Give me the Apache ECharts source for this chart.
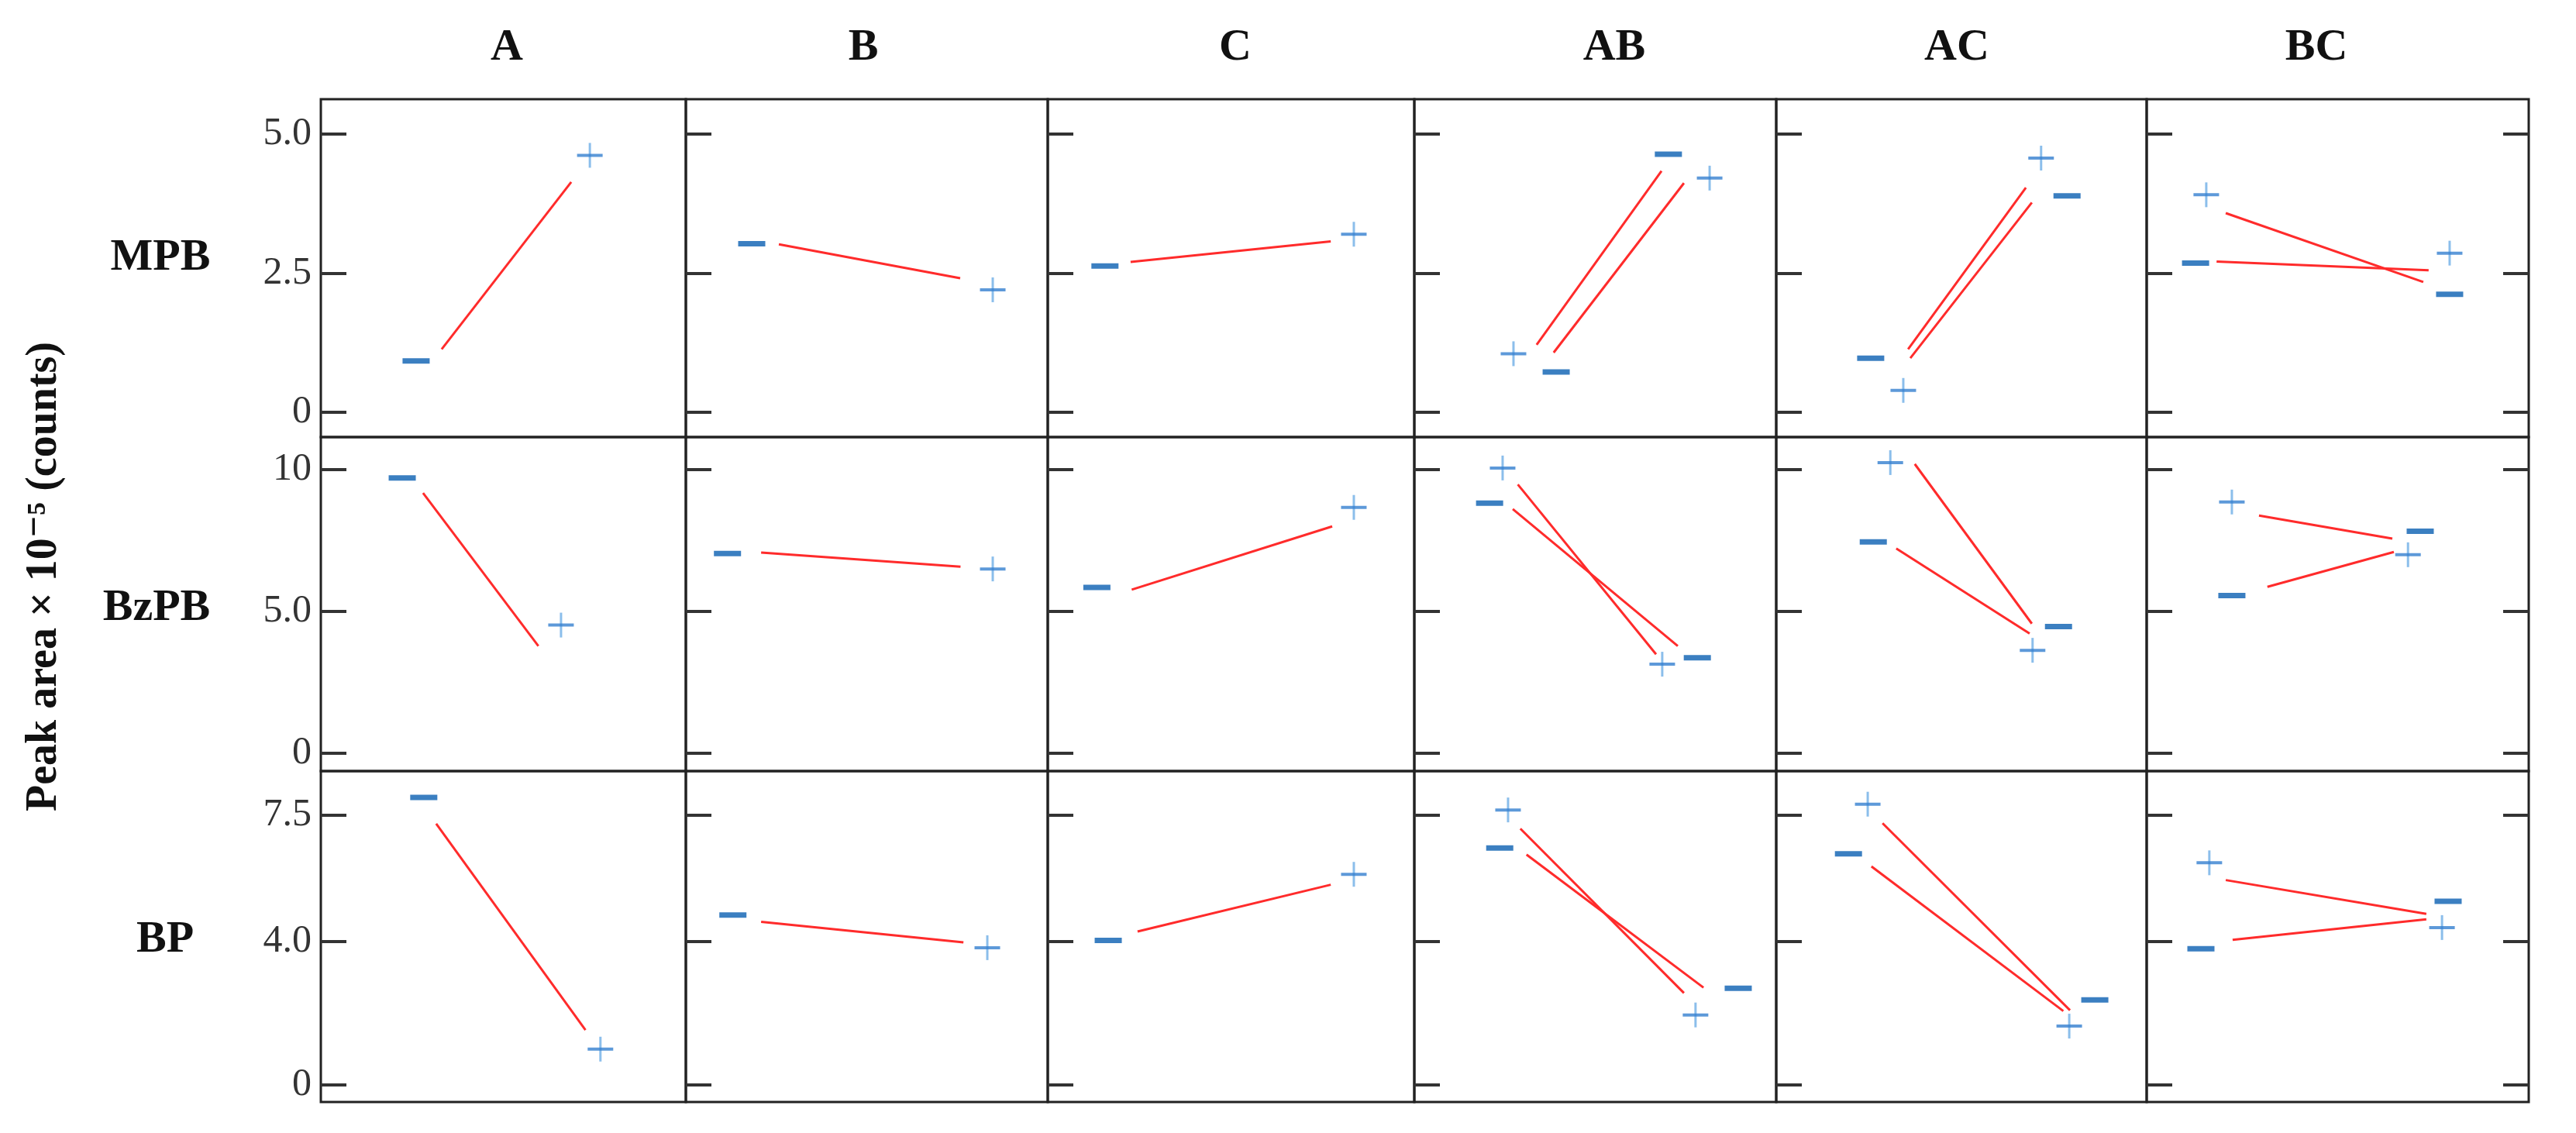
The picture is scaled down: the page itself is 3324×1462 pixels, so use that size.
<!DOCTYPE html>
<html>
<head>
<meta charset="utf-8">
<script src="https://cdn.jsdelivr.net/npm/echarts@6/dist/echarts.min.js"></script>
<style>
html,body{margin:0;padding:0;background:#fff;}
#chart{width:3324px;height:1462px;}
</style>
</head>
<body>
<div id="chart"></div>
<script>
// ---------- data ----------
const columns = ['A', 'B', 'C', 'AB', 'AC', 'BC'];
const rows = ['MPB', 'BzPB', 'BP'];
const yTickValues = [[0, 2.5, 5], [0, 5, 10], [0, 4, 7.5]];
const yTickLabels = [['0', '2.5', '5.0'], ['0', '5.0', '10'], ['0', '4.0', '7.5']];
const yRanges = [[-0.45, 5.63], [-0.63, 11.15], [-0.47, 8.73]];
const yTitle = 'Peak area \u00d7 10\u207b\u2075 (counts)';

// markers: [column index, x (0..1 inside panel), value]
const minusMPB = [[0,0.261,0.92],[1,0.182,3.03],[2,0.156,2.63],[3,0.392,0.72],[3,0.702,4.64],[4,0.255,0.97],[4,0.785,3.89],[5,0.128,2.68],[5,0.793,2.12]];
const plusMPB  = [[0,0.737,4.62],[1,0.848,2.20],[2,0.835,3.20],[3,0.274,1.05],[3,0.816,4.21],[4,0.343,0.39],[4,0.715,4.57],[5,0.156,3.91],[5,0.793,2.86]];
// lines: [column index, x1, y1, x2, y2]
const linesMPB = [[0,0.331,1.13,0.686,4.14],[1,0.257,3.02,0.758,2.41],[2,0.226,2.70,0.772,3.07],
  [3,0.338,1.21,0.683,4.34],[3,0.385,1.07,0.745,4.12],[4,0.356,1.13,0.674,4.04],[4,0.362,0.97,0.690,3.77],
  [5,0.207,3.58,0.724,2.34],[5,0.183,2.71,0.738,2.55]];

const minusBzPB = [[0,0.223,9.71],[1,0.115,7.04],[2,0.134,5.85],[3,0.208,8.82],[3,0.782,3.37],[4,0.262,7.45],[4,0.762,4.47],[5,0.223,5.56],[5,0.716,7.83]];
const plusBzPB  = [[0,0.658,4.52],[1,0.848,6.50],[2,0.835,8.67],[3,0.244,10.06],[3,0.685,3.14],[4,0.308,10.25],[4,0.692,3.63],[5,0.223,8.86],[5,0.684,7.00]];
const linesBzPB = [[0,0.280,9.18,0.596,3.78],[1,0.208,7.08,0.759,6.58],[2,0.229,5.77,0.776,8.00],
  [3,0.286,9.48,0.668,3.49],[3,0.272,8.61,0.728,3.78],[4,0.374,10.2,0.690,4.57],[4,0.324,7.22,0.684,4.22],
  [5,0.294,8.38,0.643,7.57],[5,0.316,5.87,0.647,7.10]];

const minusBP = [[0,0.282,8.00],[1,0.130,4.73],[2,0.165,4.02],[3,0.236,6.59],[3,0.895,2.69],[4,0.195,6.43],[4,0.860,2.37],[5,0.142,3.79],[5,0.789,5.11]];
const plusBP  = [[0,0.766,1.00],[1,0.833,3.82],[2,0.835,5.86],[3,0.259,7.65],[3,0.777,1.95],[4,0.247,7.81],[4,0.791,1.64],[5,0.164,6.18],[5,0.773,4.38]];
const linesBP = [[0,0.316,7.27,0.725,1.53],[1,0.208,4.54,0.767,3.97],[2,0.245,4.27,0.772,5.57],
  [3,0.293,7.13,0.745,2.56],[3,0.310,6.41,0.799,2.71],[4,0.287,7.28,0.793,2.08],[4,0.257,6.08,0.775,2.06],
  [5,0.207,5.70,0.732,4.76],[5,0.225,4.04,0.732,4.61]];

const minusByRow = [minusMPB, minusBzPB, minusBP];
const plusByRow = [plusMPB, plusBzPB, plusBP];
const linesByRow = [linesMPB, linesBzPB, linesBP];

// ---------- layout ----------
const colEdges = [414, 885, 1352, 1825, 2292, 2770, 3263];
const rowEdges = [128, 564, 995, 1422];
const colLabelX = [654, 1114, 1594, 2083, 2525, 2989];
const rowLabelPos = [[207, 333], [202, 785], [213, 1213]];
const SERIF = '"Liberation Serif", "Times New Roman", "DejaVu Serif", serif';

const grids = [], xAxes = [], yAxes = [], series = [];
const extraY = [];

for (let r = 0; r < 3; r++) {
  for (let c = 0; c < 6; c++) {
    const gi = r * 6 + c;
    grids.push({
      left: colEdges[c], top: rowEdges[r],
      width: colEdges[c + 1] - colEdges[c], height: rowEdges[r + 1] - rowEdges[r],
      show: true, borderColor: '#222', borderWidth: 3, backgroundColor: 'transparent'
    });
    xAxes.push({
      type: 'value', gridIndex: gi, min: 0, max: 1, show: false
    });
    const tickVals = yTickValues[r], tickLbls = yTickLabels[r];
    yAxes.push({
      type: 'value', gridIndex: gi, min: yRanges[r][0], max: yRanges[r][1],
      axisLine: { show: false },
      splitLine: { show: false },
      axisTick: { show: true, inside: true, length: 33, customValues: tickVals,
        lineStyle: { color: '#333', width: 4 } },
      axisLabel: { show: c === 0, customValues: tickVals, margin: 12,
        formatter: v => { const i = tickVals.findIndex(t => Math.abs(t - v) < 1e-6); return i >= 0 ? tickLbls[i] : ''; },
        fontFamily: SERIF, fontSize: 50, color: '#333' }
    });
    if (c === 5) {
      extraY.push({
        type: 'value', gridIndex: gi, position: 'right', min: yRanges[r][0], max: yRanges[r][1],
        axisLine: { show: false }, splitLine: { show: false }, axisLabel: { show: false },
        axisTick: { show: true, inside: true, length: 33, customValues: tickVals,
          lineStyle: { color: '#333', width: 4 } }
      });
    }

    // lines
    linesByRow[r].filter(d => d[0] === c).forEach(d => {
      series.push({
        type: 'line', xAxisIndex: gi, yAxisIndex: gi,
        data: [[d[1], d[2]], [d[3], d[4]]],
        showSymbol: false, symbol: 'none', silent: true,
        lineStyle: { color: '#ff2b2b', width: 3 }, z: 2
      });
    });
    // minus markers
    series.push({
      type: 'scatter', xAxisIndex: gi, yAxisIndex: gi,
      data: minusByRow[r].filter(d => d[0] === c).map(d => [d[1], d[2]]),
      symbol: 'rect', symbolSize: [35, 7], itemStyle: { color: '#0a5fb2' }, z: 3
    });
    // plus markers (vertical arm + horizontal arm)
    const pd = plusByRow[r].filter(d => d[0] === c).map(d => [d[1], d[2]]);
    series.push({
      type: 'scatter', xAxisIndex: gi, yAxisIndex: gi, data: pd,
      symbol: 'rect', symbolSize: [3, 32], itemStyle: { color: '#6eaee6' }, z: 3
    });
    series.push({
      type: 'scatter', xAxisIndex: gi, yAxisIndex: gi, data: pd,
      symbol: 'rect', symbolSize: [33, 4], itemStyle: { color: '#3580cf' }, z: 4
    });
  }
}

const graphics = [];
columns.forEach((t, c) => graphics.push({
  type: 'text', x: colLabelX[c], y: 62,
  style: { text: t, font: 'bold 58px ' + SERIF, fill: '#111', textAlign: 'center', textVerticalAlign: 'middle' }
}));
rows.forEach((t, r) => graphics.push({
  type: 'text', x: rowLabelPos[r][0], y: rowLabelPos[r][1],
  style: { text: t, font: 'bold 58px ' + SERIF, fill: '#111', textAlign: 'center', textVerticalAlign: 'middle' }
}));
graphics.push({
  type: 'text', x: 58, y: 744, rotation: Math.PI / 2,
  style: { text: yTitle, font: 'bold 56px ' + SERIF, fill: '#111', textAlign: 'center', textVerticalAlign: 'middle' }
});

const chart = echarts.init(document.getElementById('chart'), null, { renderer: 'canvas' });
chart.setOption({
  animation: false,
  backgroundColor: '#fff',
  grid: grids,
  xAxis: xAxes,
  yAxis: yAxes.concat(extraY),
  series: series,
  graphic: graphics
});
</script>
</body>
</html>
